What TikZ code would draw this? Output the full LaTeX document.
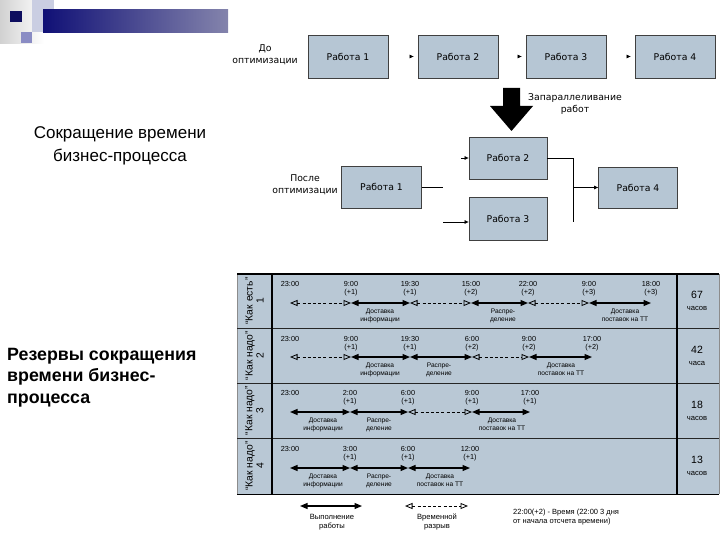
\documentclass[tikz,border=0pt]{standalone}
\usepackage{fontspec}
\setmainfont{Liberation Sans}
\newfontfamily\djv{DejaVu Sans}
\usetikzlibrary{arrows.meta,calc}
\definecolor{boxfill}{RGB}{182,198,212}
\definecolor{tabfill}{RGB}{185,200,213}
\definecolor{navy}{RGB}{16,16,118}
\definecolor{navylight}{RGB}{132,132,172}
\definecolor{lavlight}{RGB}{202,206,226}
\definecolor{lavmid}{RGB}{138,140,196}
\begin{document}
\begin{tikzpicture}[x=1pt,y=-1pt,
  pbox/.style={draw=black!75, line width=0.8pt, fill=boxfill, inner sep=0pt,
    font=\djv\fontsize{9.3}{11}\selectfont},
  plab/.style={align=center, inner sep=0pt, font=\djv\fontsize{9.3}{12}\selectfont},
  conn/.style={line width=0.7pt, -{Triangle[length=4pt,width=3.5pt]}},
  plain/.style={line width=0.7pt},
  work/.style={line width=1.2pt, {Triangle[length=7.5pt,width=6pt]}-{Triangle[length=7.5pt,width=6pt]}},
  gapl/.style={line width=0.8pt, dash pattern=on 3pt off 2.2pt,
    {Triangle[open,length=7.5pt,width=6pt,line width=0.8pt]}-{Triangle[open,length=7.5pt,width=6pt,line width=0.8pt]}},
  timel/.style={font=\fontsize{7.3}{8.2}\selectfont, align=center, anchor=north, inner sep=0pt},
  wl/.style={font=\fontsize{6.6}{8}\selectfont, align=center, anchor=north, inner sep=0pt},
  rowl/.style={rotate=90, font=\fontsize{10.3}{11}\selectfont, align=center, inner sep=0pt},
  hrs/.style={align=center, inner sep=0pt},
  leg/.style={font=\fontsize{7.6}{9}\selectfont, align=center, anchor=north, inner sep=0pt}
]
\useasboundingbox (0,0) rectangle (720,540);

% ---------- logo ----------
\shade[left color=black!18, right color=white] (0,0) rectangle (44,44);
\fill[lavlight] (32,0) rectangle (54,32);
\shade[left color=navy, right color=navylight] (43,10) rectangle (228,33);
\fill[navy!80!black] (10,11) rectangle (22,22);
\fill[lavmid] (21,32) rectangle (32,43);

% ---------- left titles ----------
\node[font=\fontsize{17}{23}\selectfont, align=center] (t1) at (120,146) {Сокращение времени\\бизнес-процесса};
\node[font=\bfseries\fontsize{17.8}{21.5}\selectfont, align=left, anchor=north west, inner sep=0pt] (t2) at (7,348) {Резервы сокращения\\времени бизнес-\\процесса};

% ---------- top diagram: before ----------
\node[plab] (before) at (265,55) {До\\оптимизации};
\node[pbox, minimum width=80pt, minimum height=43pt] (a1) at (348,56.5) {Работа 1};
\node[pbox, minimum width=80pt, minimum height=43pt] (a2) at (458,56.5) {Работа 2};
\node[pbox, minimum width=80pt, minimum height=43pt] (a3) at (566,56.5) {Работа 3};
\node[pbox, minimum width=80pt, minimum height=43pt] (a4) at (675,56.5) {Работа 4};
\draw[conn, shorten <=23pt, shorten >=4pt] (a1) -- (a2);
\draw[conn, shorten <=23pt, shorten >=4pt] (a2) -- (a3);
\draw[conn, shorten <=23pt, shorten >=4pt] (a3) -- (a4);

% big arrow
\fill[black] (503,88) -- (520,88) -- (520,106) -- (533,106) -- (511.5,131) -- (490,106) -- (503,106) -- cycle;
\node[plab] (par) at (575,104) {Запараллеливание\\работ};

% ---------- top diagram: after ----------
\node[plab] (after) at (305,185) {После\\оптимизации};
\node[pbox, minimum width=80pt, minimum height=42pt] (b1) at (381.5,187) {Работа 1};
\node[pbox, minimum width=78pt, minimum height=42pt] (b2) at (508,158) {Работа 2};
\node[pbox, minimum width=78pt, minimum height=43pt] (b3) at (508,218.5) {Работа 3};
\node[pbox, minimum width=79pt, minimum height=41pt] (b4) at (638,187.5) {Работа 4};
\coordinate (j1) at (443,187);
\coordinate (k2) at (461,158);
\coordinate (k3) at (443,222);
\coordinate (m1) at (573,158);
\coordinate (m2) at (573,222);
\coordinate (m3) at (573,187.5);
\draw[plain] (b1.east) -- (j1);
\draw[conn] (k2) -- (b2.west);
\draw[conn] (k3) -- (k3 -| b3.west);
\draw[plain] (b2.east) -- (m1) -- (m2);
\draw[conn] (m3) -- (b4.west);

% ---------- table ----------
\fill[tabfill] (237,274) rectangle (719,494);
\draw[black!45, line width=0.8pt] (237,274) -- (237,494);
\draw[black!45, line width=0.8pt] (719,274) -- (719,494);
\draw[line width=1.5pt] (237,274) -- (719,274);
\draw[line width=1pt] (237,494) -- (719,494);
\foreach \yy in {328,383,438} {\draw[line width=1pt, black!85] (237,\yy) -- (719,\yy);}
\draw[line width=1.2pt] (272,274) -- (272,494);
\draw[line width=1.2pt] (677,274) -- (677,494);

% row labels
\node[rowl] (L1) at (254.5,301) {“Как есть”\\1};
\node[rowl] (L2) at (254.5,355.5) {“Как надо”\\2};
\node[rowl] (L3) at (254.5,410.5) {“Как надо”\\3};
\node[rowl] (L4) at (254.5,466) {“Как надо”\\4};

% hours
\node[hrs] (H1) at (697,301) {{\fontsize{10.5}{12}\selectfont 67}\\{\fontsize{7.6}{9}\selectfont часов}};
\node[hrs] (H2) at (697,356) {{\fontsize{10.5}{12}\selectfont 42}\\{\fontsize{7.6}{9}\selectfont часа}};
\node[hrs] (H3) at (697,411) {{\fontsize{10.5}{12}\selectfont 18}\\{\fontsize{7.6}{9}\selectfont часов}};
\node[hrs] (H4) at (697,466) {{\fontsize{10.5}{12}\selectfont 13}\\{\fontsize{7.6}{9}\selectfont часов}};

% row 1
\foreach \n/\x/\t in {1/290/{23:00}, 2/351/{9:00\\(+1)}, 3/410/{19:30\\(+1)}, 4/471/{15:00\\(+2)}, 5/528/{22:00\\(+2)}, 6/589/{9:00\\(+3)}, 7/651/{18:00\\(+3)}} {
  \node[timel] (r1t\n) at (\x,281) {\t};
  \coordinate (r1p\n) at (\x,303);
}
\draw[gapl] (r1p1) -- (r1p2);
\draw[work] (r1p2) -- (r1p3);
\draw[gapl] (r1p3) -- (r1p4);
\draw[work] (r1p4) -- (r1p5);
\draw[gapl] (r1p5) -- (r1p6);
\draw[work] (r1p6) -- (r1p7);
\node[wl] (r1l1) at (380,309) {Доставка\\информации};
\node[wl] (r1l2) at (503,309) {Распре-\\деление};
\node[wl] (r1l3) at (625,309) {Доставка\\поставок на ТТ};

% row 2
\foreach \n/\x/\t in {1/290/{23:00}, 2/351/{9:00\\(+1)}, 3/410/{19:30\\(+1)}, 4/472/{6:00\\(+2)}, 5/529/{9:00\\(+2)}, 6/592/{17:00\\(+2)}} {
  \node[timel] (r2t\n) at (\x,336) {\t};
  \coordinate (r2p\n) at (\x,357);
}
\draw[gapl] (r2p1) -- (r2p2);
\draw[work] (r2p2) -- (r2p3);
\draw[work] (r2p3) -- (r2p4);
\draw[gapl] (r2p4) -- (r2p5);
\draw[work] (r2p5) -- (r2p6);
\node[wl] (r2l1) at (380,363) {Доставка\\информации};
\node[wl] (r2l2) at (439,363) {Распре-\\деление};
\node[wl] (r2l3) at (561,363) {Доставка\\поставок на ТТ};

% row 3
\foreach \n/\x/\t in {1/290/{23:00}, 2/350/{2:00\\(+1)}, 3/408/{6:00\\(+1)}, 4/472/{9:00\\(+1)}, 5/530/{17:00\\(+1)}} {
  \node[timel] (r3t\n) at (\x,390) {\t};
  \coordinate (r3p\n) at (\x,412);
}
\draw[work] (r3p1) -- (r3p2);
\draw[work] (r3p2) -- (r3p3);
\draw[gapl] (r3p3) -- (r3p4);
\draw[work] (r3p4) -- (r3p5);
\node[wl] (r3l1) at (323,418) {Доставка\\информации};
\node[wl] (r3l2) at (379,418) {Распре-\\деление};
\node[wl] (r3l3) at (502,418) {Доставка\\поставок на ТТ};

% row 4
\foreach \n/\x/\t in {1/290/{23:00}, 2/350/{3:00\\(+1)}, 3/408/{6:00\\(+1)}, 4/470/{12:00\\(+1)}} {
  \node[timel] (r4t\n) at (\x,446) {\t};
  \coordinate (r4p\n) at (\x,468);
}
\draw[work] (r4p1) -- (r4p2);
\draw[work] (r4p2) -- (r4p3);
\draw[work] (r4p3) -- (r4p4);
\node[wl] (r4l1) at (323,474) {Доставка\\информации};
\node[wl] (r4l2) at (379,474) {Распре-\\деление};
\node[wl] (r4l3) at (440,474) {Доставка\\поставок на ТТ};

% ---------- legend ----------
\coordinate (lw1) at (300,506);
\coordinate (lw2) at (362,506);
\coordinate (lg1) at (405,506);
\coordinate (lg2) at (468,506);
\draw[work] (lw1) -- (lw2);
\draw[gapl] (lg1) -- (lg2);
\node[leg] (lwt) at (332,514) {Выполнение\\работы};
\node[leg] (lgt) at (437,514) {Временной\\разрыв};
\node[font=\fontsize{7.5}{8.5}\selectfont, align=left, anchor=north west, inner sep=0pt] (lnote) at (513,509) {22:00(+2) - Время (22:00 3 дня\\от начала отсчета времени)};
\end{tikzpicture}
\end{document}
